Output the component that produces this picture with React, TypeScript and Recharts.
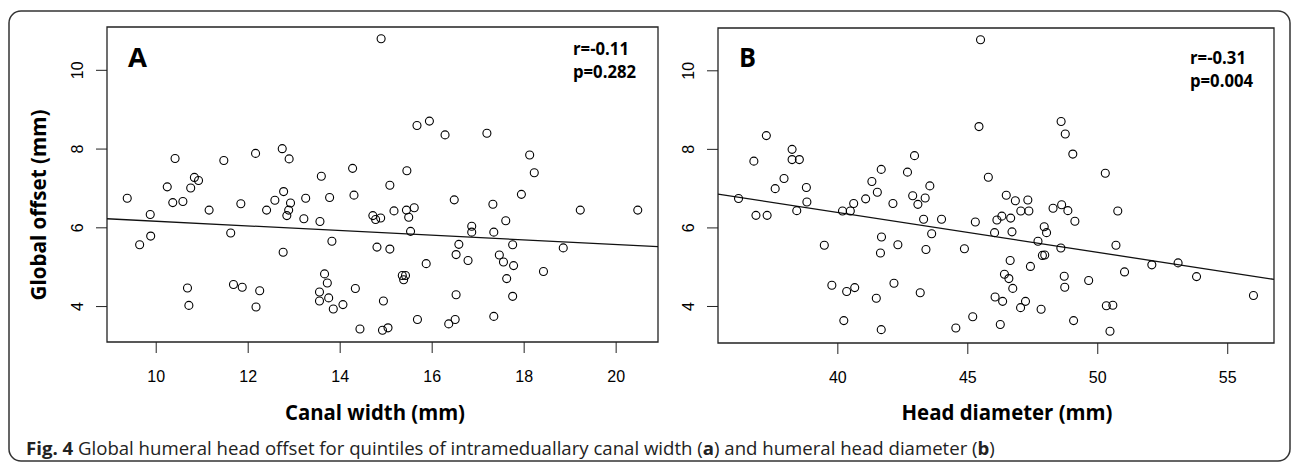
import { ScatterChart, Scatter, XAxis, YAxis, ReferenceArea, ReferenceLine } from 'recharts'

// panel A: canal width (mm) vs global offset (mm)
const canalWidth = [
  9.37, 9.87, 9.64, 9.88, 10.41, 10.24, 10.36, 10.58, 10.75, 10.83, 10.92, 11.15, 10.68, 10.71, 11.47, 11.62,
  11.68, 11.87, 11.84, 12.16, 12.25, 12.17, 12.4, 12.58, 12.74, 12.89, 12.77, 12.88, 12.84, 12.92, 12.76, 13.21,
  13.25, 13.59, 13.77, 13.56, 13.82, 13.66, 13.72, 13.55, 13.55, 13.75, 13.85, 14.06, 14.27, 14.3, 14.33, 14.43,
  14.89, 14.71, 14.77, 14.88, 15.08, 15.17, 14.8, 15.08, 14.94, 14.92, 15.04, 15.45, 15.44, 15.49, 15.61, 15.53,
  15.67, 15.94, 15.35, 15.42, 15.38, 15.87, 15.68, 16.28, 16.48, 16.58, 16.52, 16.52, 16.36, 16.5, 16.86, 16.86,
  16.78, 17.19, 17.32, 17.34, 17.46, 17.55, 17.6, 17.75, 17.77, 17.62, 17.75, 17.34, 18.12, 18.22, 17.94, 18.42,
  18.85, 19.22, 20.47,
]
const offsetA = [
  6.75, 6.34, 5.57, 5.79, 7.76, 7.04, 6.64, 6.67, 7.01, 7.28, 7.2, 6.45, 4.47, 4.03, 7.71, 5.87,
  4.56, 4.49, 6.61, 7.89, 4.4, 3.99, 6.45, 6.7, 8.01, 7.75, 6.92, 6.45, 6.31, 6.63, 5.38, 6.23,
  6.75, 7.31, 6.77, 6.16, 5.66, 4.83, 4.6, 4.37, 4.14, 4.22, 3.94, 4.05, 7.51, 6.83, 4.46, 3.43,
  10.8, 6.31, 6.21, 6.25, 7.08, 6.43, 5.51, 5.46, 4.14, 3.4, 3.46, 7.45, 6.45, 6.27, 6.51, 5.91,
  8.6, 8.71, 4.79, 4.79, 4.68, 5.09, 3.67, 8.36, 6.71, 5.58, 5.32, 4.3, 3.56, 3.67, 6.04, 5.89,
  5.17, 8.4, 6.6, 5.89, 5.31, 5.13, 6.18, 5.57, 5.04, 4.71, 4.26, 3.75, 7.85, 7.4, 6.85, 4.89,
  5.49, 6.45, 6.45,
]

// panel B: head diameter (mm) vs global offset (mm)
const headDiameter = [
  36.18, 36.85, 37.28, 36.77, 37.25, 37.59, 37.93, 38.24, 38.24, 38.52, 38.42, 38.79, 38.81, 39.48, 39.77, 40.34,
  40.65, 40.23, 40.18, 40.48, 40.61, 41.07, 41.31, 41.52, 41.67, 41.68, 41.64, 41.48, 41.67, 42.12, 42.31, 42.16,
  42.68, 42.95, 42.88, 43.08, 43.36, 43.54, 43.3, 43.61, 43.39, 43.17, 43.99, 44.87, 44.54, 45.19, 45.29, 45.49,
  45.43, 45.79, 46.03, 46.12, 46.31, 46.48, 46.65, 46.7, 46.63, 46.41, 46.58, 46.73, 46.05, 46.34, 46.25, 46.83,
  47.04, 47.31, 47.35, 47.22, 47.03, 47.41, 47.7, 47.94, 48.03, 47.87, 47.96, 47.82, 48.28, 48.61, 48.85, 49.12,
  48.59, 48.75, 49.04, 48.58, 48.71, 48.73, 49.07, 49.65, 50.29, 50.33, 50.58, 50.47, 50.77, 50.7, 51.03, 52.08,
  53.09, 53.8, 55.99,
]
const offsetB = [
  6.75, 6.32, 6.32, 7.7, 8.35, 7.0, 7.26, 8.0, 7.74, 7.74, 6.44, 7.03, 6.66, 5.56, 4.54, 4.38,
  4.48, 3.64, 6.43, 6.43, 6.62, 6.74, 7.18, 6.91, 7.49, 5.77, 5.36, 4.21, 3.41, 6.62, 5.57, 4.59,
  7.42, 7.84, 6.82, 6.6, 6.76, 7.07, 6.22, 5.85, 5.45, 4.35, 6.22, 5.47, 3.45, 3.74, 6.15, 10.79,
  8.58, 7.29, 5.88, 6.2, 6.3, 6.83, 6.25, 5.9, 5.17, 4.82, 4.71, 4.46, 4.24, 4.13, 3.54, 6.69,
  6.43, 6.71, 6.43, 4.13, 3.97, 5.02, 5.66, 6.03, 5.88, 5.3, 5.31, 3.93, 6.5, 6.59, 6.44, 6.17,
  8.71, 8.39, 7.88, 5.49, 4.77, 4.49, 3.64, 4.66, 7.39, 4.02, 4.03, 3.37, 6.43, 5.56, 4.88, 5.06,
  5.11, 4.76, 4.28,
]

// fitted lines, end points at the plot edges
const fitA = [
  { x: 8.93, y: 6.23 },
  { x: 20.91, y: 5.52 },
]
const fitB = [
  { x: 35.39, y: 6.86 },
  { x: 56.78, y: 4.69 },
]

const ticksA = [10, 12, 14, 16, 18, 20]
const ticksB = [40, 45, 50, 55]
const ticksY = [4, 6, 8, 10]

const dataA = canalWidth.map((x, i) => ({ x, y: offsetA[i] }))
const dataB = headDiameter.map((x, i) => ({ x, y: offsetB[i] }))

const tickFont = "'Liberation Sans', Arial, sans-serif"
const boldFont = "'Open Sans', sans-serif"

const OpenCircle = (props: any) => {
  const { cx, cy } = props
  if (cx == null || cy == null) return <g />
  return <circle cx={cx} cy={cy} r={4} fill="none" stroke="#000" strokeWidth={1.1} />
}

const RotatedTick = ({ x, y, payload }: any) => (
  <text
    x={x - 11}
    y={y}
    transform={`rotate(-90 ${x - 11} ${y})`}
    textAnchor="middle"
    fontSize={16}
    fontFamily={tickFont}
    fill="#000"
  >
    {payload.value}
  </text>
)

interface PanelProps {
  data: { x: number; y: number }[]
  fit: { x: number; y: number }[]
  xDomain: [number, number]
  yDomain: [number, number]
  xTicks: number[]
  width: number
  margin: { top: number; right: number; bottom: number; left: number }
  yWidth: number
}

function Panel({ data, fit, xDomain, yDomain, xTicks, width, margin, yWidth }: PanelProps) {
  return (
    <ScatterChart width={width} height={400} margin={margin}>
      <XAxis
        type="number"
        dataKey="x"
        domain={xDomain}
        ticks={xTicks}
        allowDataOverflow
        axisLine={false}
        tickSize={11}
        tickMargin={18}
        tickLine={{ stroke: '#222' }}
        tick={{ fontSize: 16, fontFamily: tickFont, fill: '#000' }}
        height={40}
      />
      <YAxis
        type="number"
        dataKey="y"
        domain={yDomain}
        ticks={ticksY}
        allowDataOverflow
        axisLine={false}
        tickSize={11}
        tickLine={{ stroke: '#222' }}
        tick={<RotatedTick />}
        width={yWidth}
      />
      <ReferenceArea
        x1={xDomain[0]}
        x2={xDomain[1]}
        y1={yDomain[0]}
        y2={yDomain[1]}
        fill="none"
        stroke="#222"
        strokeWidth={1.3}
        ifOverflow="visible"
      />
      <ReferenceLine segment={fit} stroke="#111" strokeWidth={1.3} ifOverflow="hidden" />
      <Scatter data={data} shape={<OpenCircle />} isAnimationActive={false} />
    </ScatterChart>
  )
}

export default function App() {
  return (
    <div style={{ position: 'absolute', left: 0, top: 0, width: 1292, height: 470, background: '#fff' }}>
      <div style={{ position: 'absolute', left: 0, top: 0 }}>
        <Panel
          data={dataA}
          fit={fitA}
          xDomain={[8.93, 20.91]}
          yDomain={[3.1, 11.1]}
          xTicks={ticksA}
          width={660}
          margin={{ top: 27, right: 2, bottom: 18, left: 47 }}
          yWidth={60}
        />
      </div>
      <div style={{ position: 'absolute', left: 660, top: 0 }}>
        <Panel
          data={dataB}
          fit={fitB}
          xDomain={[35.39, 56.78]}
          yDomain={[3.07, 11.09]}
          xTicks={ticksB}
          width={632}
          margin={{ top: 28, right: 18, bottom: 17, left: 18 }}
          yWidth={40}
        />
      </div>
      <svg
        width={1292}
        height={470}
        style={{ position: 'absolute', left: 0, top: 0, pointerEvents: 'none' }}
      >
        <rect x={9} y={11} width={1281} height={450} rx={12} fill="none" stroke="#333" strokeWidth={1.5} />
        <g fontFamily={boldFont} fontWeight="bold" fill="#000">
          <text x={128} y={66.5} fontSize={26} textLength={19} lengthAdjust="spacingAndGlyphs">A</text>
          <text x={739} y={66.5} fontSize={26} textLength={17} lengthAdjust="spacingAndGlyphs">B</text>
          <text x={573} y={55} fontSize={17} textLength={56} lengthAdjust="spacingAndGlyphs">r=-0.11</text>
          <text x={573} y={78} fontSize={17} textLength={63} lengthAdjust="spacingAndGlyphs">p=0.282</text>
          <text x={1190} y={63.5} fontSize={17} textLength={56} lengthAdjust="spacingAndGlyphs">r=-0.31</text>
          <text x={1190} y={87} fontSize={17} textLength={63} lengthAdjust="spacingAndGlyphs">p=0.004</text>
          <text x={375} y={420} fontSize={22} textAnchor="middle" textLength={180} lengthAdjust="spacingAndGlyphs">
            Canal width (mm)
          </text>
          <text x={1007} y={420} fontSize={22} textAnchor="middle" textLength={211} lengthAdjust="spacingAndGlyphs">
            Head diameter (mm)
          </text>
          <text
            x={46}
            y={205}
            fontSize={22}
            textAnchor="middle"
            transform="rotate(-90 46 205)"
            textLength={191}
            lengthAdjust="spacingAndGlyphs"
          >
            Global offset (mm)
          </text>
        </g>
        <text x={26} y={455} fontSize={18.6} fontFamily={boldFont} fill="#222">
          <tspan fontWeight="bold">Fig. 4</tspan> Global humeral head offset for quintiles of intrameduallary canal width (
          <tspan fontWeight="bold">a</tspan>) and humeral head diameter (<tspan fontWeight="bold">b</tspan>)
        </text>
      </svg>
    </div>
  )
}
